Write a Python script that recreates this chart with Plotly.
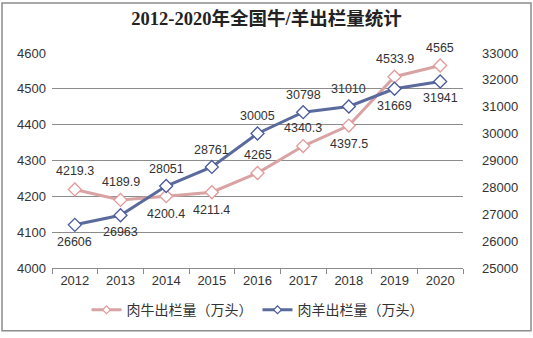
import plotly.graph_objects as go

years = ["2012", "2013", "2014", "2015", "2016", "2017", "2018", "2019", "2020"]
beef = [4219.3, 4189.9, 4200.4, 4211.4, 4265, 4340.3, 4397.5, 4533.9, 4565]
sheep = [26606, 26963, 28051, 28761, 30005, 30798, 31010, 31669, 31941]
beef_labels = ["4219.3", "4189.9", "4200.4", "4211.4", "4265", "4340.3", "4397.5", "4533.9", "4565"]
sheep_labels = ["26606", "26963", "28051", "28761", "30005", "30798", "31010", "31669", "31941"]

# +1 above point, -1 below point
beef_side = [1, 1, -1, -1, 1, 1, -1, 1, 1]
sheep_side = [-1, -1, 1, 1, 1, 1, 1, -1, -1]

PINK = "#D9A3A3"
BLUE = "#5A6A9C"
TXT = "#333333"
FONT = "Liberation Sans, Arial"

fig = go.Figure()
fig.add_trace(go.Scatter(
    x=years, y=beef, name="肉牛出栏量（万头）", mode="lines+markers", showlegend=False,
    line=dict(color=PINK, width=3),
    marker=dict(symbol="diamond", size=10, color="white", line=dict(color="#E39A9A", width=1.3)),
    cliponaxis=False,
))
fig.add_trace(go.Scatter(
    x=years, y=sheep, name="肉羊出栏量（万头）", mode="lines+markers", yaxis="y2", showlegend=False,
    line=dict(color=BLUE, width=3),
    marker=dict(symbol="diamond", size=10, color="white", line=dict(color="#4A5A9C", width=1.3)),
    cliponaxis=False,
))
# legend-only entries with smaller markers
fig.add_trace(go.Scatter(
    x=[None], y=[None], name="肉牛出栏量（万头）", mode="lines+markers",
    line=dict(color=PINK, width=3),
    marker=dict(symbol="diamond", size=6, color="white", line=dict(color="#E39A9A", width=1.2)),
))
fig.add_trace(go.Scatter(
    x=[None], y=[None], name="肉羊出栏量（万头）", mode="lines+markers",
    line=dict(color=BLUE, width=3),
    marker=dict(symbol="diamond", size=6, color="white", line=dict(color="#4A5A9C", width=1.2)),
))

for i, (yv, t, s) in enumerate(zip(beef, beef_labels, beef_side)):
    fig.add_annotation(x=i, y=yv, xref="x", yref="y", text=t, showarrow=False,
                       yshift=18 * s, font=dict(size=12.5, color=TXT, family=FONT))
for i, (yv, t, s) in enumerate(zip(sheep, sheep_labels, sheep_side)):
    fig.add_annotation(x=i, y=yv, xref="x", yref="y2", text=t, showarrow=False,
                       yshift=17 * s, font=dict(size=12.5, color=TXT, family=FONT))

L, R, T, B = 52, 70, 53, 66
W, H = 533, 338
pw, ph = W - L - R, H - T - B

fig.update_layout(
    width=W, height=H,
    margin=dict(l=L, r=R, t=T, b=B),
    paper_bgcolor="white", plot_bgcolor="white",
    title=dict(text="<b>2012-2020年全国牛/羊出栏量统计</b>", x=0.5, xanchor="center",
               y=1 - 19 / H, yanchor="middle",
               font=dict(size=18.5, color="#222222", family="Liberation Serif, Noto Sans CJK SC")),
    xaxis=dict(type="category", showgrid=False, showline=True, linecolor="#8C8C8C", linewidth=1,
               ticks="outside", tickson="boundaries", ticklen=5, tickcolor="#8C8C8C",
               tickfont=dict(size=13, color=TXT, family=FONT),
               range=[-0.5, 8.5]),
    yaxis=dict(range=[4000, 4600], dtick=100, showgrid=True, gridcolor="#8C8C8C", gridwidth=1,
               zeroline=False, showline=False, ticks="",
               tickfont=dict(size=13, color=TXT, family=FONT),
               ticklabelstandoff=5),
    yaxis2=dict(range=[25000, 33000], dtick=1000, overlaying="y", side="right", showgrid=False,
                zeroline=False, showline=False, ticks="", tickformat="d",
                tickfont=dict(size=13, color=TXT, family=FONT),
                ticklabelstandoff=18),
    legend=dict(orientation="h", x=0.5, xanchor="center", y=-43 / ph, yanchor="middle",
                font=dict(size=14, color=TXT, family="Noto Sans CJK SC"),
                bgcolor="rgba(0,0,0,0)"),
    showlegend=True,
)

fig.add_shape(type="rect", xref="paper", yref="paper",
              x0=(2 - L) / pw, x1=(531 - L) / pw,
              y0=(H - B - 336) / ph, y1=(H - B - 2) / ph,
              line=dict(color="#8C8C8C", width=1.5), fillcolor="rgba(0,0,0,0)", layer="below")

fig.write_html("out.html")
